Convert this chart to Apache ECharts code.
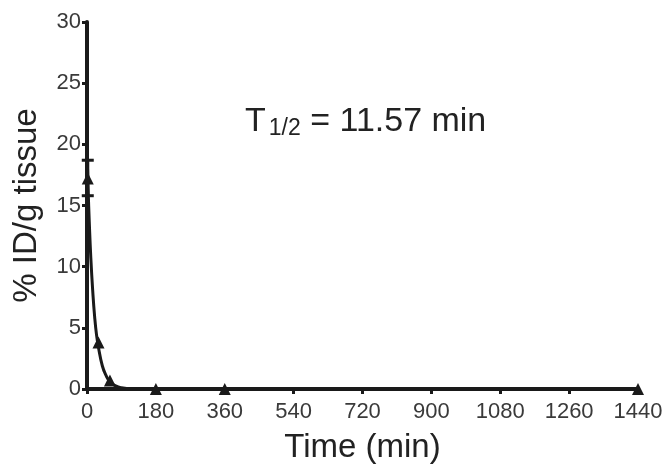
<!DOCTYPE html>
<html>
<head>
<meta charset="utf-8">
<script src="https://cdn.jsdelivr.net/npm/echarts@6/dist/echarts.min.js"></script>
<style>
  html, body { margin: 0; padding: 0; background: #fff; }
  #main { width: 670px; height: 469px; }
</style>
</head>
<body>
<div id="main"></div>
<script>
// measured points (time in min, % ID/g)
var times = [2, 30, 60, 180, 360, 1440];
var values = [17.2, 3.8, 0.7, 0, 0, 0];
// error bar on the first point
var errLow = [15.8];
var errHigh = [18.7];
// fitted decay curve
var fitTimes = [0, 3, 6, 10, 15, 20, 25, 30, 40, 50, 60, 75, 90, 120, 180, 360, 1440];
var fitValues = [19.5, 16.3, 13.6, 10.7, 8.0, 5.9, 4.4, 3.4, 1.9, 1.1, 0.6, 0.25, 0.1, 0.02, 0, 0, 0];
var xTicks = [0, 180, 360, 540, 720, 900, 1080, 1260, 1440];

var chart = echarts.init(document.getElementById('main'));

var pts = times.map(function (t, i) { return [t, values[i]]; });
var fit = fitTimes.map(function (t, i) { return [t, fitValues[i]]; });
var errData = errLow.map(function (lo, i) { return [times[i], lo, errHigh[i]]; });

var font = 'Liberation Sans, Arial, sans-serif';

option = {
    animation: false,
    grid: { left: 87, right: 32, top: 22, bottom: 80 },
    xAxis: {
        type: 'value',
        min: 0,
        max: 1440,
        interval: 180,
        name: 'Time (min)',
        nameLocation: 'middle',
        nameGap: 42,
        nameTextStyle: { fontFamily: font, fontSize: 33, color: '#222' },
        axisLine: { lineStyle: { color: '#1a1a1a', width: 4 } },
        axisTick: { show: true, length: 5, lineStyle: { color: '#1a1a1a', width: 3 } },
        axisLabel: {
            fontFamily: font, fontSize: 22, color: '#3a3a3a', margin: 12,
            formatter: function (v) { return xTicks.indexOf(v) >= 0 ? String(v) : ''; }
        },
        splitLine: { show: false }
    },
    yAxis: {
        type: 'value',
        min: 0,
        max: 30,
        interval: 5,
        name: '% ID/g tissue',
        nameLocation: 'middle',
        nameGap: 44,
        nameTextStyle: { fontFamily: font, fontSize: 33, color: '#222' },
        axisLine: { show: true, lineStyle: { color: '#1a1a1a', width: 4 } },
        axisTick: { show: true, length: 5, lineStyle: { color: '#1a1a1a', width: 3 } },
        axisLabel: { fontFamily: font, fontSize: 22, color: '#3a3a3a', margin: 6 },
        splitLine: { show: false }
    },
    graphic: [{
        type: 'text',
        left: 245,
        top: 105,
        style: {
            text: '{t|T}{s|1/2}{t| = 11.57 min}',
            rich: {
                t: { fontFamily: font, fontSize: 34, fill: '#222', verticalAlign: 'bottom' },
                s: { fontFamily: font, fontSize: 23, fill: '#222', padding: [0, 0, -14, 3] }
            }
        }
    }],
    series: [
        {
            name: 'fit',
            type: 'line',
            data: fit,
            showSymbol: false,
            smooth: true,
            lineStyle: { color: '#1a1a1a', width: 3 },
            z: 2
        },
        {
            name: 'data',
            type: 'scatter',
            data: pts,
            symbol: 'triangle',
            symbolSize: 12,
            itemStyle: { color: '#1a1a1a', opacity: 1 },
            z: 3
        },
        {
            name: 'err',
            type: 'custom',
            data: errData,
            renderItem: function (params, api) {
                var lo = api.coord([api.value(0), api.value(1)]);
                var hi = api.coord([api.value(0), api.value(2)]);
                var w = 6;
                var st = { stroke: '#1a1a1a', lineWidth: 3 };
                return {
                    type: 'group',
                    children: [
                        { type: 'line', shape: { x1: lo[0], y1: lo[1], x2: hi[0], y2: hi[1] }, style: st },
                        { type: 'line', shape: { x1: lo[0] - w, y1: lo[1], x2: lo[0] + w, y2: lo[1] }, style: st },
                        { type: 'line', shape: { x1: hi[0] - w, y1: hi[1], x2: hi[0] + w, y2: hi[1] }, style: st }
                    ]
                };
            },
            z: 4
        }
    ]
};

chart.setOption(option);
</script>
</body>
</html>
